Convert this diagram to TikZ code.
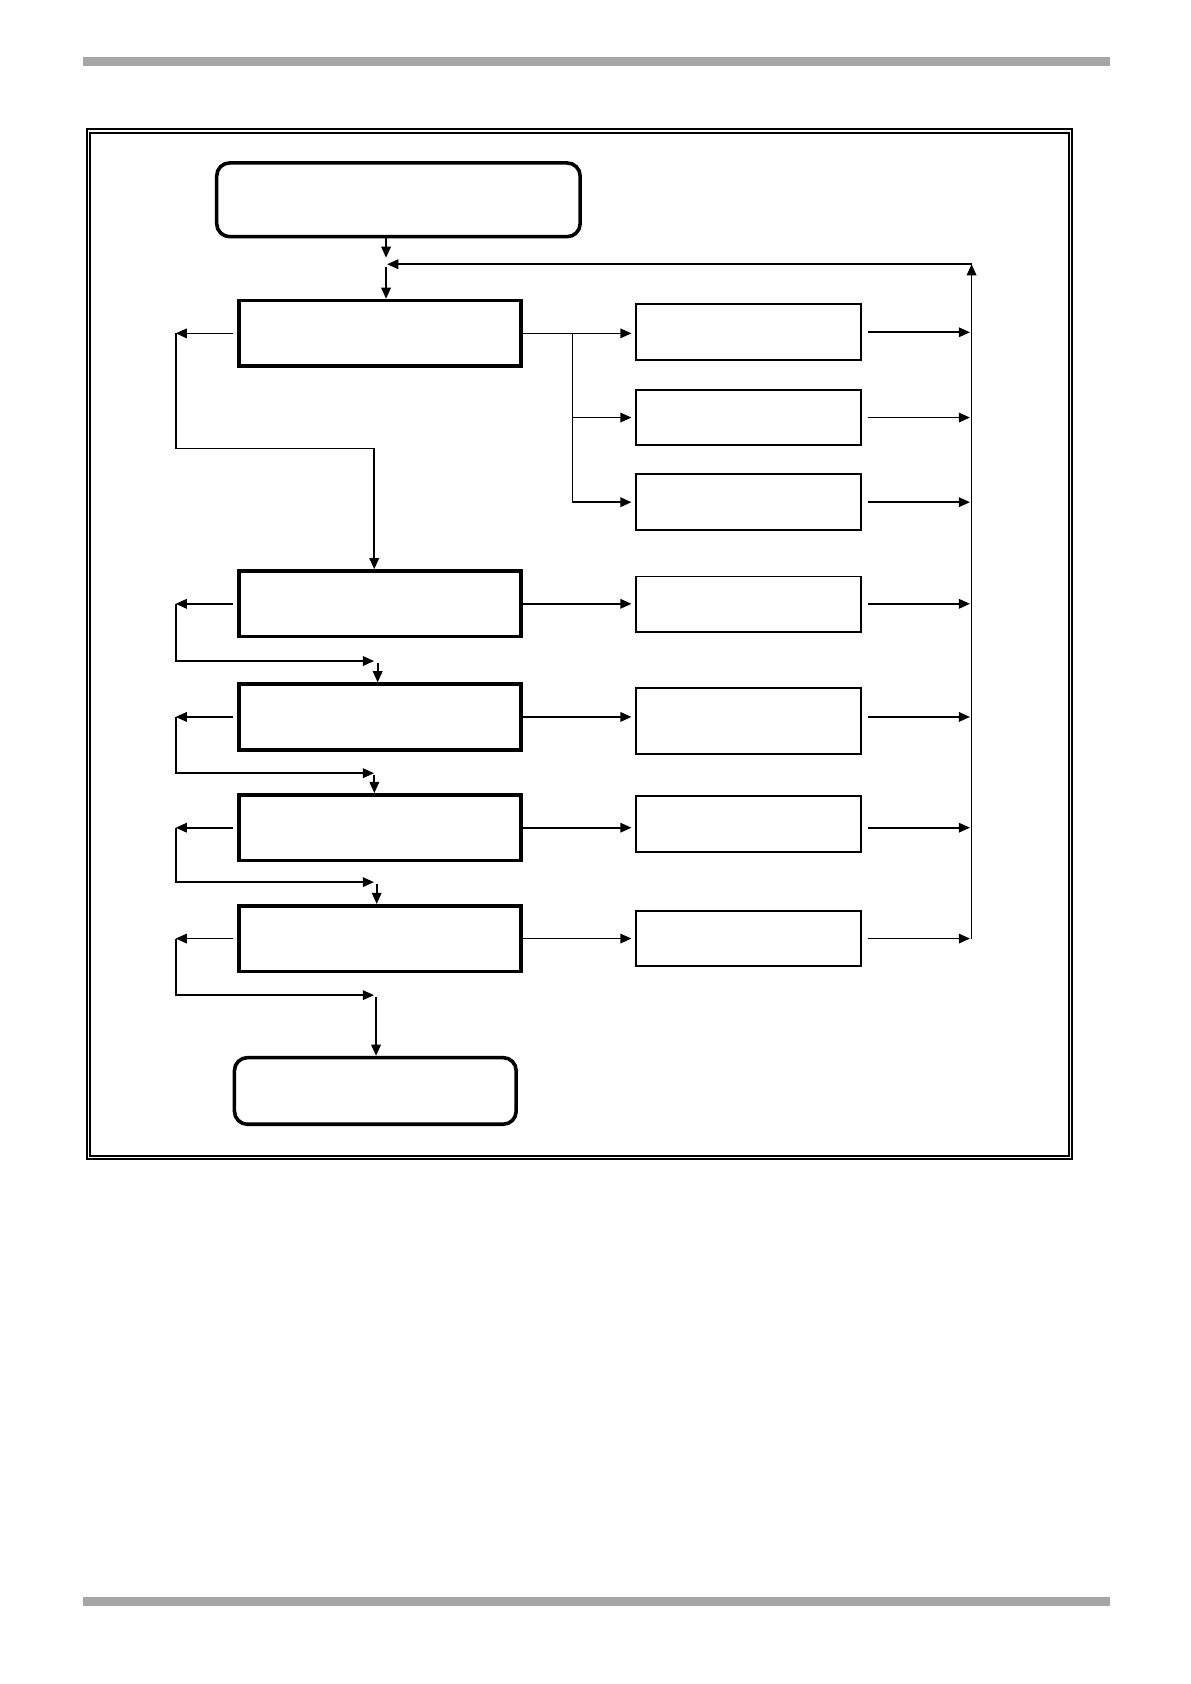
\documentclass[tikz,border=0pt]{standalone}
\usetikzlibrary{arrows.meta}
\definecolor{bargray}{HTML}{A6A6A6}
\begin{document}
\begin{tikzpicture}[x=0.01897cm, y=-0.01897cm,
    >={Triangle[length=5.6pt,width=4.8pt]},
    link/.style={line width=0.85pt},
    mainbox/.style={draw, line width=1.8pt, inner sep=0pt,
      minimum width=262*0.01897cm, minimum height=61*0.01897cm},
    termbox/.style={mainbox, rounded corners=0.23cm},
    subbox/.style={draw, line width=1pt, inner sep=0pt,
      minimum width=209.7*0.01897cm, minimum height=51.8*0.01897cm}]
    \def\u{0.01897cm}
    \useasboundingbox (0,0) rectangle (1107,1566);
    % page rules and frame
    \fill[bargray] (77,53) rectangle (1032,61);
    \fill[bargray] (77,1485) rectangle (1032,1493);
    \draw[line width=1pt] (80.5,120.4) rectangle (996.7,1077.6);
    \draw[line width=0.7pt] (83.7,123.7) rectangle (994.2,1075);
    % boxes
    \node[termbox, minimum width=338*\u, minimum height=68.6*\u] (A0_1) at (370.5,185.8) {};
    \node[mainbox] (A1_1) at (353.5,310) {};
    \node[mainbox] (A4_1) at (353.5,561.5) {};
    \node[mainbox] (A5_1) at (353.5,666.7) {};
    \node[mainbox] (A6_1) at (353.5,769.7) {};
    \node[mainbox] (A7_1) at (353.5,872.8) {};
    \node[termbox, minimum height=62*\u] (A8_1) at (349,1014.5) {};
    \node[subbox] (A1_2) at (696,309) {};
    \node[subbox] (A2_2) at (696,388.3) {};
    \node[subbox] (A3_2) at (696,467) {};
    \node[subbox] (A4_2) at (696,562) {};
    \node[subbox, minimum height=61.7*\u] (A5_2) at (696,670.4) {};
    \node[subbox] (A6_2) at (696,766.2) {};
    \node[subbox] (A7_2) at (696,872.8) {};
    % junction points
    \coordinate (J) at (359,245.7);
    \coordinate (F) at (903.5,245.7);
    \coordinate (B) at (532.3,467);
    \coordinate (G) at (163.4,0);
    \coordinate (K1) at (348,417);
    % top entry and return line
    \draw[link,->] (J |- A0_1.south) -- ([yshift=6*\u]J);
    \draw[link,->] ([yshift=-3*\u]J) -- (J |- A1_1.north);
    \draw[link,->] (F |- A7_1) -- (F);
    \draw[link,->, shorten >=1*\u] (F) -- (J);
    % first box to its three outputs
    \draw[link,->, shorten >=3*\u] (A1_1.east) -- (A1_1.east -| A1_2.west);
    \draw[link,->, shorten >=3*\u] (B |- A1_1.east) |- (A2_2.west);
    \draw[link,->, shorten >=3*\u] (B |- A1_1.east) |- (A3_2.west);
    \foreach \r in {4,5,6,7}
      \draw[link,->, shorten >=3*\u] (A\r_1.east) -- (A\r_1.east -| A\r_2.west);
    % outputs to the return line
    \foreach \b/\c in {A1_2/A1_2, A2_2/A2_2, A3_2/A3_2, A4_2/A4_1, A5_2/A5_1, A6_2/A6_1, A7_2/A7_1} {
      \path (\b.east |- \c.east) ++(5,0) coordinate (s);
      \draw[link,->, shorten >=1.5*\u] (s) -- (F |- s);
    }
    % left side loops
    \foreach \r in {1,4,5,6,7}
      \draw[link,->] ([xshift=-4*\u]A\r_1.west) -- (G |- A\r_1.west);
    \draw[link] (G |- A1_1.west) |- (K1);
    \draw[link,->] (K1) -- (K1 |- A4_1.north);
    \foreach \a/\b/\yy/\xx in {A4_1/A5_1/614.7/351.2, A5_1/A6_1/719/348.1, A6_1/A7_1/820.3/350.3, A7_1/A8_1/925.4/349.7} {
      \coordinate (K) at (347.8,\yy);
      \coordinate (D) at (\xx,\yy+1.5);
      \draw[link,->] (G |- \a.west) |- (K);
      \draw[link,->] (D) -- (D |- \b.north);
    }
\end{tikzpicture}
\end{document}
